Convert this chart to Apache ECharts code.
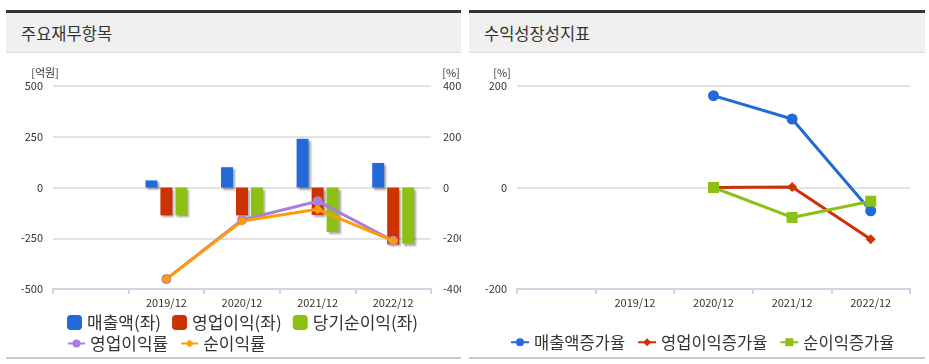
<!DOCTYPE html>
<html><head><meta charset="utf-8">
<script src="https://cdn.jsdelivr.net/npm/echarts@6/dist/echarts.min.js"></script>
<style>
html,body{margin:0;padding:0;background:#fff;width:929px;height:364px;overflow:hidden;font-family:"Noto Sans CJK KR","Noto Sans",sans-serif;}
.panel{position:absolute;top:10px;height:349px;border-top:3px solid #333;border-bottom:2px solid #c8c8c8;box-sizing:border-box;}
.head{position:absolute;left:0;right:0;top:0;height:39px;background:#f0f0f0;border-bottom:1px solid #dcdcdc;}
.head span{position:absolute;left:15px;top:8px;font-size:16.5px;color:#333;}
.chart{position:absolute;top:40px;left:0;right:0;bottom:0;}
</style></head>
<body>
<div class="panel" style="left:6px;width:455px;"><div class="head"><span>주요재무항목</span></div><div class="chart" id="c1"></div></div>
<div class="panel" style="left:469px;width:456px;"><div class="head"><span>수익성장성지표</span></div><div class="chart" id="c2"></div></div>
<script>
const categories = ['', '2019/12', '2020/12', '2021/12', '2022/12'];
const revenue = [null, 35, 100, 240, 121];
const operatingProfit = [null, -137, -137, -135, -280];
const netIncome = [null, -137, -140, -219, -276];
const operatingMargin = [null, -361, -128, -54, -210];
const netMargin = [null, -361, -132, -86, -210];
const revenueGrowth = [null, null, 181, 135, -46];
const opGrowth = [null, null, 0, 1, -102];
const netGrowth = [null, null, 0, -59, -27];

const txt = '#333';
const font = '"Noto Sans CJK KR","Noto Sans",sans-serif';
const xAxisCommon = {
  type: 'category', data: categories, boundaryGap: true,
  axisLine: {onZero: false, lineStyle: {color: '#cbd6e2', width: 2}},
  axisTick: {show: true, length: 5, lineStyle: {color: '#cbd6e2', width: 2}},
  axisLabel: {color: txt, fontSize: 11, margin: 8, fontFamily: font}
};
const yCommon = {
  type: 'value',
  axisLine: {show: false}, axisTick: {show: false},
  splitLine: {lineStyle: {color: '#e3e3e3', width: 2}},
  axisLabel: {color: txt, fontSize: 11, fontFamily: font},
  nameTextStyle: {color: txt, fontSize: 11, fontFamily: font}
};
const shadow = {shadowColor: 'rgba(0,0,0,0.35)', shadowOffsetX: 2, shadowOffsetY: 2, shadowBlur: 2};
const legendText = {color: txt, fontSize: 17, fontFamily: font};

const c1 = echarts.init(document.getElementById('c1'));
c1.setOption({
  animation: false,
  grid: {left: 47, right: 30, top: 33, bottom: 68, outerBoundsMode: 'none', containLabel: false},
  xAxis: xAxisCommon,
  yAxis: [
    Object.assign({}, yCommon, {min: -500, max: 500, interval: 250, name: '[억원]', nameGap: 8, nameTextStyle: {color: txt, fontSize: 11, padding: [0, 16, 0, 0], fontFamily: font}, axisLabel: {color: txt, fontSize: 11, margin: 10, fontFamily: font}}),
    Object.assign({}, yCommon, {min: -400, max: 400, interval: 200, name: '[%]', nameGap: 8, splitLine: {show: false}, nameTextStyle: {color: txt, fontSize: 11, padding: [0, 0, 0, 40], fontFamily: font}, axisLabel: {color: txt, fontSize: 11, margin: 12, fontFamily: font}})
  ],
  legend: [
    {top: 256, left: 56, itemWidth: 15, itemHeight: 15, itemGap: 11, textStyle: legendText,
     data: [{name: '매출액(좌)', icon: 'roundRect'}, {name: '영업이익(좌)', icon: 'roundRect'}, {name: '당기순이익(좌)', icon: 'roundRect'}]},
    {top: 277, left: 56, itemWidth: 17, itemHeight: 10, itemGap: 12, textStyle: legendText,
     data: ['영업이익률', '순이익률']}
  ],
  series: [
    {name: '매출액(좌)', type: 'bar', data: revenue, barWidth: 12, barGap: '25%', itemStyle: Object.assign({color: '#2269d9'}, shadow)},
    {name: '영업이익(좌)', type: 'bar', data: operatingProfit, barWidth: 12, barGap: '25%', itemStyle: Object.assign({color: '#cc3300'}, shadow)},
    {name: '당기순이익(좌)', type: 'bar', data: netIncome, barWidth: 12, barGap: '25%', itemStyle: Object.assign({color: '#8cc014'}, shadow)},
    {name: '영업이익률', type: 'line', yAxisIndex: 1, data: operatingMargin, symbol: 'circle', symbolSize: 10, lineStyle: {width: 3, color: '#a77fdc'}, itemStyle: {color: '#a77fdc'}},
    {name: '순이익률', type: 'line', yAxisIndex: 1, data: netMargin, symbol: 'diamond', symbolSize: 10, lineStyle: {width: 3, color: '#ff9c00'}, itemStyle: {color: '#ff9c00'}}
  ]
});

const c2 = echarts.init(document.getElementById('c2'));
c2.setOption({
  animation: false,
  grid: {left: 48, right: 15, top: 33, bottom: 68, outerBoundsMode: 'none', containLabel: false},
  xAxis: xAxisCommon,
  yAxis: Object.assign({}, yCommon, {min: -200, max: 200, interval: 200, name: '[%]', nameGap: 8, nameTextStyle: {color: txt, fontSize: 11, padding: [0, 30, 0, 0], fontFamily: font}, axisLabel: {color: txt, fontSize: 11, margin: 10, fontFamily: font}}),
  legend: {
    top: 276, left: 36, itemWidth: 18, itemHeight: 10, itemGap: 12,
    textStyle: {color: txt, fontSize: 16.5, fontFamily: font},
    data: ['매출액증가율', '영업이익증가율', '순이익증가율']
  },
  series: [
    {name: '매출액증가율', type: 'line', data: revenueGrowth, symbol: 'circle', symbolSize: 11, lineStyle: {width: 3, color: '#2269d9'}, itemStyle: {color: '#2269d9'}},
    {name: '영업이익증가율', type: 'line', data: opGrowth, symbol: 'diamond', symbolSize: 10, lineStyle: {width: 3, color: '#cc3300'}, itemStyle: {color: '#cc3300'}},
    {name: '순이익증가율', type: 'line', data: netGrowth, symbol: 'rect', symbolSize: 11, lineStyle: {width: 3, color: '#8cc014'}, itemStyle: {color: '#8cc014'}}
  ]
});
</script>
</body></html>
